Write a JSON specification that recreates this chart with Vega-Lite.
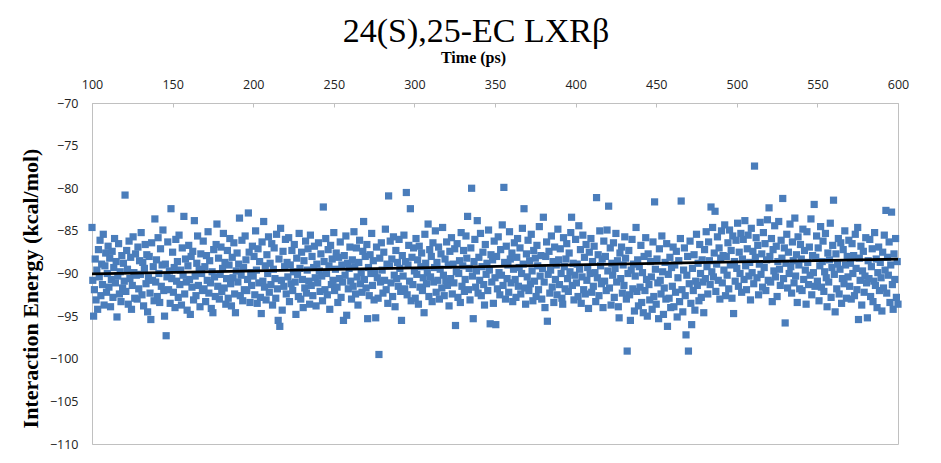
{
  "$schema": "https://vega.github.io/schema/vega-lite/v6.json",
  "width": 806,
  "height": 341,
  "autosize": {"type": "none"},
  "padding": {"left": 92, "top": 103, "right": 43, "bottom": 19},
  "background": "white",
  "title": {
    "text": "24(S),25-EC LXRβ",
    "font": "Liberation Serif",
    "fontSize": 34,
    "fontWeight": "normal",
    "color": "black",
    "anchor": "middle",
    "frame": "group",
    "dx": -19,
    "offset": 0
  },
  "config": {
    "view": {"stroke": "#c0c0c0", "strokeWidth": 1},
    "axis": {
      "grid": false,
      "domainColor": "#c0c0c0",
      "tickColor": "#c0c0c0",
      "labelFont": "Open Sans",
      "labelFontSize": 12.5,
      "labelColor": "#222222",
      "labelFlush": false,
      "titleFont": "Liberation Serif",
      "titleFontWeight": "bold",
      "titleColor": "black"
    }
  },
  "datasets": {
    "trend": [
      {"t": 100, "e": -90.05},
      {"t": 600, "e": -88.3}
    ]
  },
  "layer": [
    {
      "data": {"values": [
{"t":100,"e":-84.6},{"t":100.5,"e":-90.8},{"t":101,"e":-95.0},{"t":101.5,"e":-91.9},{"t":102,"e":-88.3},{"t":102.5,"e":-93.1},{"t":103,"e":-89.6},{"t":103.5,"e":-94.2},{"t":104,"e":-87.2},{"t":104.5,"e":-90.4},
{"t":105,"e":-86.1},{"t":105.5,"e":-92.6},{"t":106,"e":-88.9},{"t":106.5,"e":-91.3},{"t":107,"e":-85.4},{"t":107.5,"e":-93.7},{"t":108,"e":-89.1},{"t":108.5,"e":-87.6},{"t":109,"e":-92.2},{"t":109.5,"e":-90.0},
{"t":110,"e":-86.8},{"t":110.5,"e":-91.6},{"t":111,"e":-88.2},{"t":111.5,"e":-93.9},{"t":112,"e":-90.7},{"t":112.5,"e":-87.4},{"t":113,"e":-92.8},{"t":113.5,"e":-89.3},{"t":114,"e":-85.9},{"t":114.5,"e":-91.1},
{"t":115,"e":-88.6},{"t":115.5,"e":-95.1},{"t":116,"e":-90.3},{"t":116.5,"e":-86.5},{"t":117,"e":-92.4},{"t":117.5,"e":-89.8},{"t":118,"e":-93.3},{"t":118.5,"e":-87.9},{"t":119,"e":-91.7},{"t":119.5,"e":-88.8},
{"t":120,"e":-90.9},{"t":120.5,"e":-80.8},{"t":121,"e":-92.1},{"t":121.5,"e":-87.3},{"t":122,"e":-89.5},{"t":122.5,"e":-93.6},{"t":123,"e":-86.2},{"t":123.5,"e":-90.6},{"t":124,"e":-88.1},{"t":124.5,"e":-94.2},
{"t":125,"e":-91.4},{"t":125.5,"e":-85.7},{"t":126,"e":-89.9},{"t":126.5,"e":-92.9},{"t":127,"e":-87.7},{"t":127.5,"e":-90.2},{"t":128,"e":-93.0},{"t":128.5,"e":-86.9},{"t":129,"e":-91.8},{"t":129.5,"e":-88.5},
{"t":130,"e":-90.1},{"t":130.5,"e":-85.2},{"t":131,"e":-92.5},{"t":131.5,"e":-88.7},{"t":132,"e":-93.8},{"t":132.5,"e":-89.4},{"t":133,"e":-86.6},{"t":133.5,"e":-91.2},{"t":134,"e":-87.8},{"t":134.5,"e":-94.5},
{"t":135,"e":-90.5},{"t":135.5,"e":-88.0},{"t":136,"e":-92.3},{"t":136.5,"e":-95.4},{"t":137,"e":-86.4},{"t":137.5,"e":-90.8},{"t":138,"e":-89.2},{"t":138.5,"e":-93.2},{"t":139,"e":-83.6},{"t":139.5,"e":-91.0},
{"t":140,"e":-88.4},{"t":140.5,"e":-92.7},{"t":141,"e":-85.8},{"t":141.5,"e":-90.0},{"t":142,"e":-93.4},{"t":142.5,"e":-87.1},{"t":143,"e":-91.5},{"t":143.5,"e":-89.0},{"t":144,"e":-84.9},{"t":144.5,"e":-92.0},
{"t":145,"e":-95.0},{"t":145.5,"e":-88.9},{"t":146,"e":-97.3},{"t":146.5,"e":-90.4},{"t":147,"e":-86.3},{"t":147.5,"e":-91.9},{"t":148,"e":-89.7},{"t":148.5,"e":-93.5},{"t":149,"e":-82.4},{"t":149.5,"e":-90.6},
{"t":150,"e":-87.5},{"t":150.5,"e":-92.2},{"t":151,"e":-89.3},{"t":151.5,"e":-94.0},{"t":152,"e":-86.0},{"t":152.5,"e":-90.9},{"t":153,"e":-88.6},{"t":153.5,"e":-92.8},{"t":154,"e":-85.5},{"t":154.5,"e":-91.3},
{"t":155,"e":-89.6},{"t":155.5,"e":-93.7},{"t":156,"e":-87.0},{"t":156.5,"e":-90.2},{"t":157,"e":-83.3},{"t":157.5,"e":-92.4},{"t":158,"e":-88.3},{"t":158.5,"e":-91.0},{"t":159,"e":-94.3},{"t":159.5,"e":-89.1},
{"t":160,"e":-86.7},{"t":160.5,"e":-90.7},{"t":161,"e":-94.8},{"t":161.5,"e":-88.0},{"t":162,"e":-91.6},{"t":162.5,"e":-87.4},{"t":163,"e":-93.1},{"t":163.5,"e":-83.8},{"t":164,"e":-90.3},{"t":164.5,"e":-92.6},
{"t":165,"e":-88.8},{"t":165.5,"e":-85.6},{"t":166,"e":-91.4},{"t":166.5,"e":-89.5},{"t":167,"e":-93.9},{"t":167.5,"e":-87.7},{"t":168,"e":-90.0},{"t":168.5,"e":-92.0},{"t":169,"e":-86.2},{"t":169.5,"e":-91.8},
{"t":170,"e":-89.2},{"t":170.5,"e":-93.3},{"t":171,"e":-87.9},{"t":171.5,"e":-90.8},{"t":172,"e":-85.1},{"t":172.5,"e":-92.3},{"t":173,"e":-88.5},{"t":173.5,"e":-91.1},{"t":174,"e":-94.1},{"t":174.5,"e":-89.8},
{"t":175,"e":-94.6},{"t":175.5,"e":-87.2},{"t":176,"e":-90.4},{"t":176.5,"e":-92.7},{"t":177,"e":-86.6},{"t":177.5,"e":-84.2},{"t":178,"e":-91.5},{"t":178.5,"e":-88.2},{"t":179,"e":-93.0},{"t":179.5,"e":-90.1},
{"t":180,"e":-86.9},{"t":180.5,"e":-92.1},{"t":181,"e":-89.4},{"t":181.5,"e":-85.3},{"t":182,"e":-91.7},{"t":182.5,"e":-88.7},{"t":183,"e":-93.6},{"t":183.5,"e":-90.6},{"t":184,"e":-87.3},{"t":184.5,"e":-92.9},
{"t":185,"e":-89.0},{"t":185.5,"e":-85.9},{"t":186,"e":-91.2},{"t":186.5,"e":-93.8},{"t":187,"e":-88.1},{"t":187.5,"e":-90.5},{"t":188,"e":-86.4},{"t":188.5,"e":-92.4},{"t":189,"e":-94.6},{"t":189.5,"e":-89.7},
{"t":190,"e":-87.6},{"t":190.5,"e":-91.0},{"t":191,"e":-88.9},{"t":191.5,"e":-83.5},{"t":192,"e":-92.6},{"t":192.5,"e":-90.2},{"t":193,"e":-86.1},{"t":193.5,"e":-93.2},{"t":194,"e":-89.3},{"t":194.5,"e":-91.9},
{"t":195,"e":-85.6},{"t":195.5,"e":-88.4},{"t":196,"e":-92.0},{"t":196.5,"e":-90.7},{"t":197,"e":-82.9},{"t":197.5,"e":-87.5},{"t":198,"e":-93.4},{"t":198.5,"e":-89.9},{"t":199,"e":-91.4},{"t":199.5,"e":-86.8},
{"t":200,"e":-90.3},{"t":200.5,"e":-88.0},{"t":201,"e":-92.5},{"t":201.5,"e":-85.0},{"t":202,"e":-89.6},{"t":202.5,"e":-93.5},{"t":203,"e":-87.1},{"t":203.5,"e":-91.1},{"t":204,"e":-88.6},{"t":204.5,"e":-92.8},
{"t":205,"e":-94.7},{"t":205.5,"e":-86.3},{"t":206,"e":-90.9},{"t":206.5,"e":-83.9},{"t":207,"e":-91.6},{"t":207.5,"e":-89.1},{"t":208,"e":-93.1},{"t":208.5,"e":-87.8},{"t":209,"e":-90.0},{"t":209.5,"e":-85.7},
{"t":210,"e":-92.2},{"t":210.5,"e":-88.8},{"t":211,"e":-91.3},{"t":211.5,"e":-86.5},{"t":212,"e":-93.7},{"t":212.5,"e":-89.5},{"t":213,"e":-87.0},{"t":213.5,"e":-90.6},{"t":214,"e":-92.9},{"t":214.5,"e":-85.4},
{"t":215,"e":-91.8},{"t":215.5,"e":-95.5},{"t":216,"e":-88.3},{"t":216.5,"e":-96.2},{"t":217,"e":-84.7},{"t":217.5,"e":-90.8},{"t":218,"e":-94.3},{"t":218.5,"e":-87.4},{"t":219,"e":-91.5},{"t":219.5,"e":-89.2},
{"t":220,"e":-86.0},{"t":220.5,"e":-92.4},{"t":221,"e":-88.7},{"t":221.5,"e":-90.4},{"t":222,"e":-85.8},{"t":222.5,"e":-93.3},{"t":223,"e":-89.0},{"t":223.5,"e":-91.2},{"t":224,"e":-87.3},{"t":224.5,"e":-92.0},
{"t":225,"e":-89.8},{"t":225.5,"e":-86.6},{"t":226,"e":-91.0},{"t":226.5,"e":-94.8},{"t":227,"e":-88.2},{"t":227.5,"e":-90.1},{"t":228,"e":-92.7},{"t":228.5,"e":-85.3},{"t":229,"e":-89.4},{"t":229.5,"e":-93.0},
{"t":230,"e":-87.5},{"t":230.5,"e":-90.7},{"t":231,"e":-94.0},{"t":231.5,"e":-88.5},{"t":232,"e":-91.7},{"t":232.5,"e":-86.2},{"t":233,"e":-92.3},{"t":233.5,"e":-89.6},{"t":234,"e":-87.1},{"t":234.5,"e":-90.9},
{"t":235,"e":-93.6},{"t":235.5,"e":-85.5},{"t":236,"e":-91.4},{"t":236.5,"e":-88.0},{"t":237,"e":-92.6},{"t":237.5,"e":-89.3},{"t":238,"e":-86.8},{"t":238.5,"e":-90.5},{"t":239,"e":-93.8},{"t":239.5,"e":-88.9},
{"t":240,"e":-91.1},{"t":240.5,"e":-86.4},{"t":241,"e":-89.7},{"t":241.5,"e":-92.1},{"t":242,"e":-87.7},{"t":242.5,"e":-90.3},{"t":243,"e":-93.2},{"t":243.5,"e":-82.2},{"t":244,"e":-88.6},{"t":244.5,"e":-91.9},
{"t":245,"e":-85.9},{"t":245.5,"e":-90.0},{"t":246,"e":-92.5},{"t":246.5,"e":-87.2},{"t":247,"e":-89.1},{"t":247.5,"e":-94.2},{"t":248,"e":-86.7},{"t":248.5,"e":-91.3},{"t":249,"e":-88.3},{"t":249.5,"e":-90.8},
{"t":250,"e":-85.2},{"t":250.5,"e":-92.0},{"t":251,"e":-89.5},{"t":251.5,"e":-87.6},{"t":252,"e":-91.6},{"t":252.5,"e":-93.4},{"t":253,"e":-88.1},{"t":253.5,"e":-90.6},{"t":254,"e":-86.3},{"t":254.5,"e":-92.8},
{"t":255,"e":-89.0},{"t":255.5,"e":-91.0},{"t":256,"e":-95.5},{"t":256.5,"e":-87.9},{"t":257,"e":-90.2},{"t":257.5,"e":-85.6},{"t":258,"e":-94.9},{"t":258.5,"e":-88.8},{"t":259,"e":-91.8},{"t":259.5,"e":-89.4},
{"t":260,"e":-86.9},{"t":260.5,"e":-90.9},{"t":261,"e":-93.0},{"t":261.5,"e":-88.4},{"t":262,"e":-91.5},{"t":262.5,"e":-85.1},{"t":263,"e":-89.2},{"t":263.5,"e":-92.4},{"t":264,"e":-87.0},{"t":264.5,"e":-90.4},
{"t":265,"e":-93.7},{"t":265.5,"e":-88.7},{"t":266,"e":-86.1},{"t":266.5,"e":-91.2},{"t":267,"e":-89.9},{"t":267.5,"e":-92.2},{"t":268,"e":-87.4},{"t":268.5,"e":-83.9},{"t":269,"e":-90.7},{"t":269.5,"e":-88.0},
{"t":270,"e":-91.7},{"t":270.5,"e":-86.6},{"t":271,"e":-95.3},{"t":271.5,"e":-89.3},{"t":272,"e":-92.6},{"t":272.5,"e":-87.8},{"t":273,"e":-90.0},{"t":273.5,"e":-85.3},{"t":274,"e":-91.4},{"t":274.5,"e":-88.5},
{"t":275,"e":-93.1},{"t":275.5,"e":-89.8},{"t":276,"e":-95.2},{"t":276.5,"e":-86.9},{"t":277,"e":-90.5},{"t":277.5,"e":-92.9},{"t":278,"e":-99.5},{"t":278.5,"e":-88.2},{"t":279,"e":-91.0},{"t":279.5,"e":-86.4},
{"t":280,"e":-89.6},{"t":280.5,"e":-92.3},{"t":281,"e":-87.5},{"t":281.5,"e":-90.8},{"t":282,"e":-84.8},{"t":282.5,"e":-91.9},{"t":283,"e":-88.9},{"t":283.5,"e":-93.5},{"t":284,"e":-80.9},{"t":284.5,"e":-89.1},
{"t":285,"e":-86.2},{"t":285.5,"e":-91.1},{"t":286,"e":-88.3},{"t":286.5,"e":-92.7},{"t":287,"e":-85.7},{"t":287.5,"e":-90.2},{"t":288,"e":-93.9},{"t":288.5,"e":-87.3},{"t":289,"e":-90.6},{"t":289.5,"e":-88.7},
{"t":290,"e":-91.5},{"t":290.5,"e":-86.0},{"t":291,"e":-89.4},{"t":291.5,"e":-92.1},{"t":292,"e":-95.5},{"t":292.5,"e":-87.9},{"t":293,"e":-90.3},{"t":293.5,"e":-85.5},{"t":294,"e":-91.8},{"t":294.5,"e":-88.6},
{"t":295,"e":-80.5},{"t":295.5,"e":-92.5},{"t":296,"e":-89.0},{"t":296.5,"e":-86.7},{"t":297,"e":-90.9},{"t":297.5,"e":-82.4},{"t":298,"e":-93.2},{"t":298.5,"e":-88.1},{"t":299,"e":-91.3},{"t":299.5,"e":-87.0},
{"t":300,"e":-89.7},{"t":300.5,"e":-92.9},{"t":301,"e":-85.9},{"t":301.5,"e":-90.1},{"t":302,"e":-88.4},{"t":302.5,"e":-93.6},{"t":303,"e":-86.8},{"t":303.5,"e":-91.6},{"t":304,"e":-89.2},{"t":304.5,"e":-87.6},
{"t":305,"e":-92.0},{"t":305.5,"e":-90.5},{"t":306,"e":-94.6},{"t":306.5,"e":-85.4},{"t":307,"e":-88.8},{"t":307.5,"e":-91.2},{"t":308,"e":-89.9},{"t":308.5,"e":-84.2},{"t":309,"e":-92.7},{"t":309.5,"e":-87.2},
{"t":310,"e":-90.4},{"t":310.5,"e":-88.0},{"t":311,"e":-93.3},{"t":311.5,"e":-86.4},{"t":312,"e":-91.0},{"t":312.5,"e":-89.3},{"t":313,"e":-85.0},{"t":313.5,"e":-92.2},{"t":314,"e":-88.7},{"t":314.5,"e":-90.8},
{"t":315,"e":-86.9},{"t":315.5,"e":-93.0},{"t":316,"e":-89.5},{"t":316.5,"e":-87.7},{"t":317,"e":-91.7},{"t":317.5,"e":-84.6},{"t":318,"e":-90.2},{"t":318.5,"e":-92.6},{"t":319,"e":-88.3},{"t":319.5,"e":-90.9},
{"t":320,"e":-86.3},{"t":320.5,"e":-91.4},{"t":321,"e":-89.0},{"t":321.5,"e":-93.8},{"t":322,"e":-87.4},{"t":322.5,"e":-90.6},{"t":323,"e":-85.8},{"t":323.5,"e":-92.4},{"t":324,"e":-88.9},{"t":324.5,"e":-91.1},
{"t":325,"e":-87.1},{"t":325.5,"e":-96.1},{"t":326,"e":-89.8},{"t":326.5,"e":-86.5},{"t":327,"e":-92.8},{"t":327.5,"e":-90.0},{"t":328,"e":-88.5},{"t":328.5,"e":-93.4},{"t":329,"e":-85.2},{"t":329.5,"e":-91.5},
{"t":330,"e":-89.1},{"t":330.5,"e":-87.3},{"t":331,"e":-92.1},{"t":331.5,"e":-90.7},{"t":332,"e":-85.6},{"t":332.5,"e":-88.2},{"t":333,"e":-83.3},{"t":333.5,"e":-91.9},{"t":334,"e":-89.4},{"t":334.5,"e":-93.1},
{"t":335,"e":-87.0},{"t":335.5,"e":-80.0},{"t":336,"e":-90.3},{"t":336.5,"e":-95.3},{"t":337,"e":-88.6},{"t":337.5,"e":-86.0},{"t":338,"e":-91.6},{"t":338.5,"e":-89.7},{"t":339,"e":-83.8},{"t":339.5,"e":-92.3},
{"t":340,"e":-88.1},{"t":340.5,"e":-90.8},{"t":341,"e":-85.3},{"t":341.5,"e":-92.6},{"t":342,"e":-89.2},{"t":342.5,"e":-87.5},{"t":343,"e":-91.3},{"t":343.5,"e":-93.7},{"t":344,"e":-86.6},{"t":344.5,"e":-90.1},
{"t":345,"e":-88.8},{"t":345.5,"e":-92.0},{"t":346,"e":-84.9},{"t":346.5,"e":-89.6},{"t":347,"e":-95.9},{"t":347.5,"e":-87.8},{"t":348,"e":-91.0},{"t":348.5,"e":-88.4},{"t":349,"e":-93.5},{"t":349.5,"e":-86.2},
{"t":350,"e":-90.5},{"t":350.5,"e":-96.0},{"t":351,"e":-88.0},{"t":351.5,"e":-91.8},{"t":352,"e":-85.7},{"t":352.5,"e":-89.9},{"t":353,"e":-92.5},{"t":353.5,"e":-87.2},{"t":354,"e":-90.2},{"t":354.5,"e":-84.3},
{"t":355,"e":-91.4},{"t":355.5,"e":-79.9},{"t":356,"e":-88.7},{"t":356.5,"e":-93.0},{"t":357,"e":-86.8},{"t":357.5,"e":-90.6},{"t":358,"e":-89.0},{"t":358.5,"e":-92.2},{"t":359,"e":-85.1},{"t":359.5,"e":-88.3},
{"t":360,"e":-91.1},{"t":360.5,"e":-87.6},{"t":361,"e":-93.3},{"t":361.5,"e":-89.5},{"t":362,"e":-86.4},{"t":362.5,"e":-90.7},{"t":363,"e":-92.8},{"t":363.5,"e":-88.1},{"t":364,"e":-85.9},{"t":364.5,"e":-91.5},
{"t":365,"e":-89.3},{"t":365.5,"e":-87.0},{"t":366,"e":-92.4},{"t":366.5,"e":-90.0},{"t":367,"e":-84.7},{"t":367.5,"e":-88.9},{"t":368,"e":-82.4},{"t":368.5,"e":-91.7},{"t":369,"e":-93.6},{"t":369.5,"e":-87.7},
{"t":370,"e":-90.4},{"t":370.5,"e":-86.1},{"t":371,"e":-92.0},{"t":371.5,"e":-88.5},{"t":372,"e":-91.2},{"t":372.5,"e":-85.4},{"t":373,"e":-89.7},{"t":373.5,"e":-93.2},{"t":374,"e":-87.3},{"t":374.5,"e":-90.9},
{"t":375,"e":-88.2},{"t":375.5,"e":-92.7},{"t":376,"e":-86.7},{"t":376.5,"e":-89.1},{"t":377,"e":-91.9},{"t":377.5,"e":-84.5},{"t":378,"e":-90.3},{"t":378.5,"e":-87.9},{"t":379,"e":-93.0},{"t":379.5,"e":-89.4},
{"t":380,"e":-83.4},{"t":380.5,"e":-91.0},{"t":381,"e":-94.0},{"t":381.5,"e":-88.0},{"t":382,"e":-86.3},{"t":382.5,"e":-95.6},{"t":383,"e":-90.1},{"t":383.5,"e":-87.4},{"t":384,"e":-92.3},{"t":384.5,"e":-89.6},
{"t":385,"e":-85.6},{"t":385.5,"e":-91.6},{"t":386,"e":-88.6},{"t":386.5,"e":-93.4},{"t":387,"e":-86.9},{"t":387.5,"e":-90.7},{"t":388,"e":-89.0},{"t":388.5,"e":-92.5},{"t":389,"e":-84.8},{"t":389.5,"e":-88.4},
{"t":390,"e":-91.3},{"t":390.5,"e":-87.1},{"t":391,"e":-90.0},{"t":391.5,"e":-92.9},{"t":392,"e":-93.6},{"t":392.5,"e":-85.8},{"t":393,"e":-89.2},{"t":393.5,"e":-91.8},{"t":394,"e":-88.3},{"t":394.5,"e":-86.5},
{"t":395,"e":-90.6},{"t":395.5,"e":-92.1},{"t":396,"e":-87.6},{"t":396.5,"e":-89.8},{"t":397,"e":-85.2},{"t":397.5,"e":-83.4},{"t":398,"e":-91.4},{"t":398.5,"e":-88.8},{"t":399,"e":-93.1},{"t":399.5,"e":-90.2},
{"t":400,"e":-86.0},{"t":400.5,"e":-91.1},{"t":401,"e":-88.9},{"t":401.5,"e":-92.7},{"t":402,"e":-84.4},{"t":402.5,"e":-89.5},{"t":403,"e":-87.2},{"t":403.5,"e":-93.5},{"t":404,"e":-90.4},{"t":404.5,"e":-85.5},
{"t":405,"e":-91.9},{"t":405.5,"e":-88.1},{"t":406,"e":-92.4},{"t":406.5,"e":-86.6},{"t":407,"e":-90.8},{"t":407.5,"e":-89.3},{"t":408,"e":-94.1},{"t":408.5,"e":-87.5},{"t":409,"e":-90.0},{"t":409.5,"e":-85.9},
{"t":410,"e":-92.2},{"t":410.5,"e":-88.6},{"t":411,"e":-91.5},{"t":411.5,"e":-86.8},{"t":412,"e":-89.9},{"t":412.5,"e":-93.3},{"t":413,"e":-81.1},{"t":413.5,"e":-90.5},{"t":414,"e":-87.8},{"t":414.5,"e":-92.6},
{"t":415,"e":-85.0},{"t":415.5,"e":-89.1},{"t":416,"e":-91.2},{"t":416.5,"e":-88.3},{"t":417,"e":-94.0},{"t":417.5,"e":-86.2},{"t":418,"e":-90.9},{"t":418.5,"e":-88.0},{"t":419,"e":-92.0},{"t":419.5,"e":-84.9},
{"t":420,"e":-89.7},{"t":420.5,"e":-82.1},{"t":421,"e":-91.7},{"t":421.5,"e":-87.0},{"t":422,"e":-93.7},{"t":422.5,"e":-88.8},{"t":423,"e":-90.2},{"t":423.5,"e":-86.4},{"t":424,"e":-92.8},{"t":424.5,"e":-89.4},
{"t":425,"e":-85.3},{"t":425.5,"e":-91.0},{"t":426,"e":-88.5},{"t":426.5,"e":-93.9},{"t":427,"e":-95.2},{"t":427.5,"e":-87.6},{"t":428,"e":-90.6},{"t":428.5,"e":-86.9},{"t":429,"e":-92.3},{"t":429.5,"e":-89.0},
{"t":430,"e":-91.4},{"t":430.5,"e":-85.7},{"t":431,"e":-88.2},{"t":431.5,"e":-93.0},{"t":432,"e":-99.1},{"t":432.5,"e":-90.0},{"t":433,"e":-87.3},{"t":433.5,"e":-92.5},{"t":434,"e":-95.5},{"t":434.5,"e":-89.6},
{"t":435,"e":-86.0},{"t":435.5,"e":-91.8},{"t":436,"e":-88.9},{"t":436.5,"e":-94.4},{"t":437,"e":-90.3},{"t":437.5,"e":-84.6},{"t":438,"e":-92.1},{"t":438.5,"e":-88.4},{"t":439,"e":-93.8},{"t":439.5,"e":-89.2},
{"t":440,"e":-91.6},{"t":440.5,"e":-86.7},{"t":441,"e":-93.4},{"t":441.5,"e":-89.9},{"t":442,"e":-94.6},{"t":442.5,"e":-88.0},{"t":443,"e":-92.0},{"t":443.5,"e":-85.8},{"t":444,"e":-90.7},{"t":444.5,"e":-95.0},
{"t":445,"e":-87.7},{"t":445.5,"e":-91.3},{"t":446,"e":-93.1},{"t":446.5,"e":-88.6},{"t":447,"e":-90.4},{"t":447.5,"e":-94.2},{"t":448,"e":-86.3},{"t":448.5,"e":-92.7},{"t":449,"e":-81.6},{"t":449.5,"e":-89.5},
{"t":450,"e":-93.6},{"t":450.5,"e":-88.3},{"t":451,"e":-91.1},{"t":451.5,"e":-95.3},{"t":452,"e":-87.1},{"t":452.5,"e":-90.8},{"t":453,"e":-92.4},{"t":453.5,"e":-85.6},{"t":454,"e":-89.8},{"t":454.5,"e":-94.8},
{"t":455,"e":-91.7},{"t":455.5,"e":-88.7},{"t":456,"e":-93.0},{"t":456.5,"e":-86.5},{"t":457,"e":-96.2},{"t":457.5,"e":-90.1},{"t":458,"e":-92.9},{"t":458.5,"e":-88.1},{"t":459,"e":-94.0},{"t":459.5,"e":-89.3},
{"t":460,"e":-91.5},{"t":460.5,"e":-86.9},{"t":461,"e":-93.9},{"t":461.5,"e":-89.0},{"t":462,"e":-92.2},{"t":462.5,"e":-87.4},{"t":463,"e":-95.1},{"t":463.5,"e":-90.5},{"t":464,"e":-88.5},{"t":464.5,"e":-93.3},
{"t":465,"e":-85.9},{"t":465.5,"e":-81.5},{"t":466,"e":-91.9},{"t":466.5,"e":-94.5},{"t":467,"e":-89.6},{"t":467.5,"e":-87.0},{"t":468,"e":-92.6},{"t":468.5,"e":-97.2},{"t":469,"e":-90.2},{"t":469.5,"e":-88.0},
{"t":470,"e":-99.1},{"t":470.5,"e":-91.2},{"t":471,"e":-86.2},{"t":471.5,"e":-93.5},{"t":472,"e":-96.0},{"t":472.5,"e":-89.4},{"t":473,"e":-92.0},{"t":473.5,"e":-87.8},{"t":474,"e":-94.3},{"t":474.5,"e":-90.9},
{"t":475,"e":-85.4},{"t":475.5,"e":-91.4},{"t":476,"e":-88.8},{"t":476.5,"e":-93.2},{"t":477,"e":-86.6},{"t":477.5,"e":-90.0},{"t":478,"e":-92.8},{"t":478.5,"e":-88.4},{"t":479,"e":-91.0},{"t":479.5,"e":-94.6},
{"t":480,"e":-87.2},{"t":480.5,"e":-90.6},{"t":481,"e":-85.1},{"t":481.5,"e":-89.2},{"t":482,"e":-92.4},{"t":482.5,"e":-86.3},{"t":483,"e":-88.5},{"t":483.5,"e":-91.3},{"t":484,"e":-82.2},{"t":484.5,"e":-89.8},
{"t":485,"e":-84.6},{"t":485.5,"e":-90.4},{"t":486,"e":-87.6},{"t":486.5,"e":-82.7},{"t":487,"e":-92.1},{"t":487.5,"e":-88.9},{"t":488,"e":-85.7},{"t":488.5,"e":-90.8},{"t":489,"e":-87.0},{"t":489.5,"e":-93.0},
{"t":490,"e":-88.2},{"t":490.5,"e":-85.0},{"t":491,"e":-91.1},{"t":491.5,"e":-87.9},{"t":492,"e":-89.6},{"t":492.5,"e":-84.3},{"t":493,"e":-92.6},{"t":493.5,"e":-88.0},{"t":494,"e":-90.2},{"t":494.5,"e":-86.4},
{"t":495,"e":-91.8},{"t":495.5,"e":-84.9},{"t":496,"e":-89.0},{"t":496.5,"e":-87.3},{"t":497,"e":-92.9},{"t":497.5,"e":-85.6},{"t":498,"e":-94.7},{"t":498.5,"e":-88.6},{"t":499,"e":-90.9},{"t":499.5,"e":-86.1},
{"t":500,"e":-89.4},{"t":500.5,"e":-84.1},{"t":501,"e":-91.5},{"t":501.5,"e":-87.5},{"t":502,"e":-90.0},{"t":502.5,"e":-85.3},{"t":503,"e":-92.2},{"t":503.5,"e":-88.3},{"t":504,"e":-86.0},{"t":504.5,"e":-90.7},
{"t":505,"e":-83.8},{"t":505.5,"e":-89.1},{"t":506,"e":-91.9},{"t":506.5,"e":-87.1},{"t":507,"e":-85.5},{"t":507.5,"e":-90.3},{"t":508,"e":-88.7},{"t":508.5,"e":-93.1},{"t":509,"e":-84.7},{"t":509.5,"e":-89.9},
{"t":510,"e":-87.4},{"t":510.5,"e":-91.2},{"t":511,"e":-77.4},{"t":511.5,"e":-88.1},{"t":512,"e":-85.8},{"t":512.5,"e":-90.5},{"t":513,"e":-86.7},{"t":513.5,"e":-92.5},{"t":514,"e":-88.9},{"t":514.5,"e":-84.0},
{"t":515,"e":-90.1},{"t":515.5,"e":-87.7},{"t":516,"e":-91.6},{"t":516.5,"e":-85.2},{"t":517,"e":-89.3},{"t":517.5,"e":-86.5},{"t":518,"e":-92.0},{"t":518.5,"e":-88.4},{"t":519,"e":-83.7},{"t":519.5,"e":-90.8},
{"t":520,"e":-82.3},{"t":520.5,"e":-88.0},{"t":521,"e":-91.0},{"t":521.5,"e":-85.9},{"t":522,"e":-93.3},{"t":522.5,"e":-87.2},{"t":523,"e":-89.7},{"t":523.5,"e":-84.4},{"t":524,"e":-90.4},{"t":524.5,"e":-86.8},
{"t":525,"e":-92.7},{"t":525.5,"e":-88.6},{"t":526,"e":-83.9},{"t":526.5,"e":-89.5},{"t":527,"e":-91.4},{"t":527.5,"e":-86.1},{"t":528,"e":-88.2},{"t":528.5,"e":-81.2},{"t":529,"e":-90.6},{"t":529.5,"e":-87.0},
{"t":530,"e":-95.8},{"t":530.5,"e":-88.8},{"t":531,"e":-85.4},{"t":531.5,"e":-91.7},{"t":532,"e":-87.5},{"t":532.5,"e":-90.0},{"t":533,"e":-84.2},{"t":533.5,"e":-89.2},{"t":534,"e":-92.3},{"t":534.5,"e":-86.3},
{"t":535,"e":-88.5},{"t":535.5,"e":-91.1},{"t":536,"e":-83.5},{"t":536.5,"e":-90.3},{"t":537,"e":-87.8},{"t":537.5,"e":-93.4},{"t":538,"e":-85.7},{"t":538.5,"e":-89.0},{"t":539,"e":-91.8},{"t":539.5,"e":-86.6},
{"t":540,"e":-88.3},{"t":540.5,"e":-92.0},{"t":541,"e":-84.8},{"t":541.5,"e":-90.7},{"t":542,"e":-87.3},{"t":542.5,"e":-89.6},{"t":543,"e":-93.6},{"t":543.5,"e":-85.1},{"t":544,"e":-88.7},{"t":544.5,"e":-91.3},
{"t":545,"e":-86.9},{"t":545.5,"e":-90.2},{"t":546,"e":-83.6},{"t":546.5,"e":-92.5},{"t":547,"e":-87.9},{"t":547.5,"e":-89.9},{"t":548,"e":-81.9},{"t":548.5,"e":-91.5},{"t":549,"e":-88.1},{"t":549.5,"e":-85.6},
{"t":550,"e":-90.9},{"t":550.5,"e":-87.0},{"t":551,"e":-93.2},{"t":551.5,"e":-89.1},{"t":552,"e":-84.5},{"t":552.5,"e":-91.6},{"t":553,"e":-88.6},{"t":553.5,"e":-86.2},{"t":554,"e":-92.1},{"t":554.5,"e":-89.8},
{"t":555,"e":-85.3},{"t":555.5,"e":-90.5},{"t":556,"e":-93.9},{"t":556.5,"e":-87.6},{"t":557,"e":-91.0},{"t":557.5,"e":-88.4},{"t":558,"e":-84.1},{"t":558.5,"e":-92.8},{"t":559,"e":-89.3},{"t":559.5,"e":-86.7},
{"t":560,"e":-81.4},{"t":560.5,"e":-90.1},{"t":561,"e":-94.5},{"t":561.5,"e":-87.7},{"t":562,"e":-91.8},{"t":562.5,"e":-88.9},{"t":563,"e":-85.9},{"t":563.5,"e":-92.4},{"t":564,"e":-89.5},{"t":564.5,"e":-86.4},
{"t":565,"e":-93.5},{"t":565.5,"e":-90.6},{"t":566,"e":-87.2},{"t":566.5,"e":-91.2},{"t":567,"e":-85.0},{"t":567.5,"e":-89.0},{"t":568,"e":-92.9},{"t":568.5,"e":-88.0},{"t":569,"e":-90.4},{"t":569.5,"e":-86.1},
{"t":570,"e":-91.5},{"t":570.5,"e":-88.8},{"t":571,"e":-93.0},{"t":571.5,"e":-86.5},{"t":572,"e":-90.0},{"t":572.5,"e":-87.9},{"t":573,"e":-92.6},{"t":573.5,"e":-85.4},{"t":574,"e":-89.4},{"t":574.5,"e":-91.9},
{"t":575,"e":-84.6},{"t":575.5,"e":-95.4},{"t":576,"e":-88.2},{"t":576.5,"e":-90.8},{"t":577,"e":-86.8},{"t":577.5,"e":-93.7},{"t":578,"e":-89.7},{"t":578.5,"e":-87.4},{"t":579,"e":-92.2},{"t":579.5,"e":-90.3},
{"t":580,"e":-85.8},{"t":580.5,"e":-91.1},{"t":581,"e":-95.2},{"t":581.5,"e":-88.5},{"t":582,"e":-90.6},{"t":582.5,"e":-86.0},{"t":583,"e":-92.7},{"t":583.5,"e":-89.2},{"t":584,"e":-87.1},{"t":584.5,"e":-93.3},
{"t":585,"e":-90.9},{"t":585.5,"e":-85.2},{"t":586,"e":-91.4},{"t":586.5,"e":-88.3},{"t":587,"e":-94.0},{"t":587.5,"e":-89.9},{"t":588,"e":-86.9},{"t":588.5,"e":-92.0},{"t":589,"e":-88.7},{"t":589.5,"e":-90.5},
{"t":590,"e":-94.4},{"t":590.5,"e":-87.5},{"t":591,"e":-91.7},{"t":591.5,"e":-85.5},{"t":592,"e":-89.6},{"t":592.5,"e":-82.6},{"t":593,"e":-92.3},{"t":593.5,"e":-88.1},{"t":594,"e":-90.2},{"t":594.5,"e":-86.3},
{"t":595,"e":-93.4},{"t":595.5,"e":-89.0},{"t":596,"e":-82.8},{"t":596.5,"e":-91.3},{"t":597,"e":-94.2},{"t":597.5,"e":-87.7},{"t":598,"e":-90.7},{"t":598.5,"e":-85.9},{"t":599,"e":-92.8},{"t":599.5,"e":-88.6},
{"t":600,"e":-93.6}
      ]},
      "mark": {"type": "point", "shape": "square", "filled": true, "size": 52, "color": "#4a7dbb", "opacity": 1},
      "encoding": {
        "x": {
          "field": "t",
          "type": "quantitative",
          "scale": {"domain": [100, 600], "nice": false, "zero": false},
          "axis": {
            "orient": "top",
            "values": [100, 150, 200, 250, 300, 350, 400, 450, 500, 550, 600],
            "title": "Time (ps)",
            "titleFontSize": 16,
            "titleX": 381,
            "titleY": -41,
            "titleBaseline": "alphabetic",
            "titleAnchor": "middle",
            "ticks": true,
            "tickSize": -4,
            "labelPadding": 19,
            "labelBaseline": "alphabetic"
          }
        },
        "y": {
          "field": "e",
          "type": "quantitative",
          "scale": {"domain": [-110, -70], "nice": false, "zero": false},
          "axis": {
            "values": [-110, -105, -100, -95, -90, -85, -80, -75, -70],
            "title": "Interaction Energy (kcal/mol)",
            "titleFontSize": 22,
            "titleAngle": -90,
            "titleX": -55,
            "titleY": 185,
            "titleBaseline": "alphabetic",
            "titleAlign": "center",
            "ticks": false,
            "labelPadding": 14
          }
        }
      }
    },
    {
      "data": {"name": "trend"},
      "mark": {"type": "line", "color": "black", "strokeWidth": 2.75},
      "encoding": {
        "x": {"field": "t", "type": "quantitative"},
        "y": {"field": "e", "type": "quantitative"}
      }
    }
  ]
}
